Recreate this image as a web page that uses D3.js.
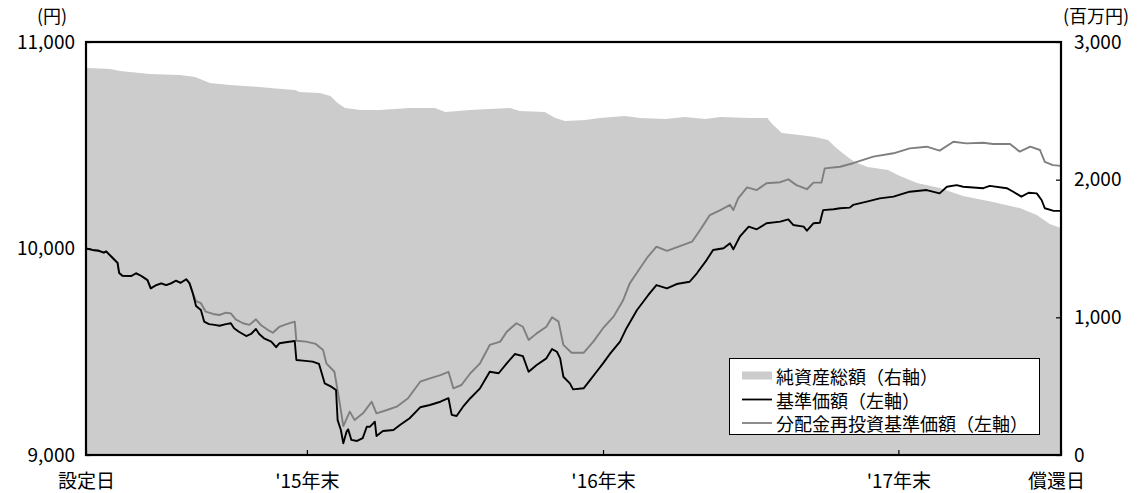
<!DOCTYPE html>
<html><head><meta charset="utf-8">
<script src="https://cdn.jsdelivr.net/npm/d3@7"></script>
<style>
body{margin:0;background:#fff}
text{font-family:"Noto Sans CJK JP","Noto Sans",sans-serif;fill:#000}
</style>
</head><body>
<svg id="c" width="1139" height="493"></svg>
<script>
// ---- data ----
const startDate = "2015-04-02";
const endDate = "2018-07-20";
const yearEndDates = ["2015-12-31","2016-12-31","2017-12-31"];
const xTickLabels = ["設定日","'15年末","'16年末","'17年末","償還日"];
const leftTicks = [9000,10000,11000];
const rightTicks = [0,1000,2000,3000];
const legendLabels = ["純資産総額（右軸）","基準価額（左軸）","分配金再投資基準価額（左軸）"];

// 純資産総額 (百万円)
const netAssets = [
["2015-04-02",2811],["2015-04-19",2808],["2015-05-02",2804],["2015-05-14",2789],["2015-06-20",2768],
["2015-07-27",2760],["2015-08-15",2746],["2015-09-02",2702],["2015-09-27",2688],["2015-11-03",2673],
["2015-11-22",2662],["2015-12-16",2651],["2015-12-22",2637],["2016-01-16",2630],["2016-01-29",2608],
["2016-02-07",2557],["2016-02-16",2521],["2016-03-06",2506],["2016-03-30",2506],["2016-05-06",2521],
["2016-06-06",2521],["2016-06-19",2492],["2016-07-20",2506],["2016-08-13",2513],["2016-09-07",2521],
["2016-09-19",2499],["2016-10-20",2492],["2016-11-02",2448],["2016-11-14",2426],["2016-12-09",2433],
["2016-12-27",2448],["2017-01-27",2462],["2017-02-15",2448],["2017-03-18",2441],["2017-04-11",2455],
["2017-05-06",2441],["2017-05-25",2455],["2017-07-01",2448],["2017-07-22",2448],["2017-07-28",2404],
["2017-08-09",2339],["2017-08-31",2324],["2017-09-19",2310],["2017-10-05",2288],["2017-10-14",2237],
["2017-10-26",2179],["2017-11-07",2128],["2017-11-23",2092],["2017-12-18",2070],["2018-01-02",2027],
["2018-01-23",1976],["2018-02-20",1939],["2018-03-21",1881],["2018-04-27",1838],["2018-05-30",1794],
["2018-06-20",1743],["2018-07-06",1678],["2018-07-20",1649]
];

// 基準価額 (円)
const basePrice = [
["2015-04-02",10000],["2015-04-10",9993],["2015-04-18",9989],["2015-04-24",9980],["2015-04-27",9986],["2015-04-29",9978],
["2015-05-05",9954],["2015-05-11",9930],["2015-05-13",9881],["2015-05-17",9868],["2015-05-28",9867],["2015-06-03",9880],
["2015-06-09",9868],["2015-06-17",9847],["2015-06-21",9807],["2015-06-28",9823],["2015-07-04",9831],["2015-07-10",9823],
["2015-07-16",9831],["2015-07-22",9844],["2015-07-28",9834],["2015-08-04",9851],["2015-08-08",9831],["2015-08-12",9783],
["2015-08-16",9722],["2015-08-22",9702],["2015-08-26",9646],["2015-09-01",9634],["2015-09-08",9630],["2015-09-14",9626],
["2015-09-22",9634],["2015-09-28",9638],["2015-10-02",9614],["2015-10-08",9597],["2015-10-17",9576],["2015-10-23",9586],
["2015-10-29",9610],["2015-11-02",9586],["2015-11-08",9565],["2015-11-17",9549],["2015-11-23",9522],["2015-11-27",9541],
["2015-12-05",9546],["2015-12-16",9552],["2015-12-18",9460],["2015-12-26",9457],["2016-01-07",9452],["2016-01-15",9441],
["2016-01-22",9347],["2016-01-30",9331],["2016-02-05",9315],["2016-02-07",9169],["2016-02-11",9121],["2016-02-14",9057],
["2016-02-18",9113],["2016-02-20",9124],["2016-02-24",9073],["2016-03-02",9068],["2016-03-09",9082],["2016-03-14",9137],
["2016-03-18",9137],["2016-03-24",9161],["2016-03-26",9092],["2016-04-03",9116],["2016-04-16",9121],["2016-04-24",9145],
["2016-05-06",9178],["2016-05-19",9231],["2016-05-31",9242],["2016-06-13",9258],["2016-06-23",9275],["2016-06-27",9194],
["2016-07-03",9189],["2016-07-11",9234],["2016-07-20",9275],["2016-08-01",9323],["2016-08-13",9403],["2016-08-24",9396],
["2016-09-03",9444],["2016-09-13",9489],["2016-09-23",9479],["2016-09-30",9403],["2016-10-10",9436],["2016-10-22",9468],
["2016-10-29",9513],["2016-11-04",9500],["2016-11-08",9468],["2016-11-12",9379],["2016-11-20",9347],["2016-11-24",9318],
["2016-12-07",9323],["2016-12-15",9363],["2016-12-23",9403],["2016-12-31",9444],["2017-01-09",9492],["2017-01-21",9549],
["2017-01-29",9614],["2017-02-11",9702],["2017-02-25",9775],["2017-03-07",9823],["2017-03-20",9807],["2017-04-01",9828],
["2017-04-17",9839],["2017-04-26",9880],["2017-05-08",9944],["2017-05-16",9993],["2017-05-29",10001],["2017-06-06",10025],
["2017-06-10",9996],["2017-06-18",10057],["2017-06-29",10106],["2017-07-09",10093],["2017-07-21",10122],["2017-08-07",10130],
["2017-08-17",10141],["2017-08-23",10114],["2017-09-05",10106],["2017-09-09",10086],["2017-09-17",10122],["2017-09-25",10125],
["2017-09-29",10186],["2017-10-12",10190],["2017-10-20",10195],["2017-11-01",10198],["2017-11-05",10211],["2017-11-22",10227],
["2017-12-08",10243],["2017-12-25",10251],["2018-01-14",10275],["2018-02-04",10283],["2018-02-20",10267],["2018-03-01",10299],
["2018-03-13",10307],["2018-03-21",10299],["2018-04-15",10292],["2018-04-23",10303],["2018-05-14",10292],["2018-05-22",10275],
["2018-06-01",10251],["2018-06-10",10270],["2018-06-20",10267],["2018-06-26",10235],["2018-06-30",10195],["2018-07-10",10183],
["2018-07-20",10182]
];

// 分配金再投資基準価額 (円)
const reinvestPrice = [
["2015-04-02",10000],["2015-04-10",9993],["2015-04-18",9989],["2015-04-24",9980],["2015-04-27",9986],["2015-04-29",9978],
["2015-05-05",9954],["2015-05-11",9930],["2015-05-13",9881],["2015-05-17",9868],["2015-05-28",9867],["2015-06-03",9880],
["2015-06-09",9868],["2015-06-17",9847],["2015-06-21",9807],["2015-06-28",9823],["2015-07-04",9831],["2015-07-10",9823],
["2015-07-16",9831],["2015-07-22",9844],["2015-07-28",9834],["2015-08-04",9851],["2015-08-08",9831],["2015-08-12",9783],
["2015-08-16",9745],["2015-08-22",9735],["2015-08-28",9694],["2015-09-06",9683],["2015-09-14",9678],["2015-09-22",9689],
["2015-09-28",9686],["2015-10-04",9657],["2015-10-13",9638],["2015-10-21",9630],["2015-10-29",9657],["2015-11-04",9630],
["2015-11-13",9605],["2015-11-19",9592],["2015-11-27",9621],["2015-12-05",9633],["2015-12-16",9646],["2015-12-18",9553],
["2015-12-30",9549],["2016-01-11",9538],["2016-01-20",9508],["2016-01-24",9444],["2016-02-03",9403],["2016-02-09",9266],
["2016-02-14",9140],["2016-02-22",9210],["2016-02-28",9169],["2016-03-10",9205],["2016-03-20",9258],["2016-03-26",9202],
["2016-04-08",9218],["2016-04-20",9234],["2016-05-04",9275],["2016-05-19",9355],["2016-05-31",9371],["2016-06-13",9387],
["2016-06-23",9403],["2016-06-29",9323],["2016-07-09",9339],["2016-07-20",9396],["2016-08-01",9444],["2016-08-13",9533],
["2016-08-26",9549],["2016-09-03",9597],["2016-09-15",9638],["2016-09-23",9621],["2016-09-30",9557],["2016-10-10",9589],
["2016-10-22",9621],["2016-10-29",9667],["2016-11-06",9646],["2016-11-12",9533],["2016-11-22",9495],["2016-12-07",9495],
["2016-12-19",9549],["2016-12-31",9614],["2017-01-13",9670],["2017-01-25",9751],["2017-02-02",9831],["2017-02-09",9872],
["2017-02-23",9953],["2017-03-07",10009],["2017-03-20",9989],["2017-04-05",10012],["2017-04-20",10033],["2017-04-30",10090],
["2017-05-12",10162],["2017-05-25",10186],["2017-06-06",10211],["2017-06-10",10186],["2017-06-16",10243],["2017-06-27",10296],
["2017-07-09",10283],["2017-07-21",10316],["2017-08-07",10321],["2017-08-17",10335],["2017-08-27",10307],["2017-09-09",10287],
["2017-09-17",10319],["2017-09-27",10319],["2017-10-01",10388],["2017-10-20",10396],["2017-11-05",10413],["2017-11-30",10445],
["2017-12-25",10461],["2018-01-14",10485],["2018-02-04",10493],["2018-02-20",10474],["2018-03-09",10517],["2018-03-25",10509],
["2018-04-15",10512],["2018-04-27",10506],["2018-05-18",10506],["2018-05-30",10469],["2018-06-12",10493],["2018-06-24",10477],
["2018-06-30",10420],["2018-07-10",10404],["2018-07-20",10400]
];

// ---- drawing ----
const parse = d3.timeParse("%Y-%m-%d");
const svg = d3.select("#c");
const L = 86, R = 1061, T = 42, B = 455;

const x = d3.scaleTime().domain([parse(startDate), parse(endDate)]).range([L, R]);
const yL = d3.scaleLinear().domain([9000, 11000]).range([B, T]);
const yR = d3.scaleLinear().domain([0, 3000]).range([B, T]);

svg.append("defs").append("clipPath").attr("id","clip")
  .append("rect").attr("x",L).attr("y",T).attr("width",R-L).attr("height",B-T);

const g = svg.append("g").attr("clip-path","url(#clip)");

const area = d3.area().x(d => x(parse(d[0]))).y0(yR(0)).y1(d => yR(d[1]));
g.append("path").datum(netAssets).attr("d", area).attr("fill", "#cccccc");

const lineL = d3.line().x(d => x(parse(d[0]))).y(d => yL(d[1]));
g.append("path").datum(reinvestPrice).attr("d", lineL)
  .attr("fill","none").attr("stroke","#7f7f7f").attr("stroke-width",1.9).attr("stroke-linejoin","round");
g.append("path").datum(basePrice).attr("d", lineL)
  .attr("fill","none").attr("stroke","#000").attr("stroke-width",1.9).attr("stroke-linejoin","round");

// axes
const axL = svg.append("g").attr("transform",`translate(${L},0)`)
  .call(d3.axisLeft(yL).tickValues(leftTicks).tickSize(-5).tickPadding(11).tickFormat(d3.format(",")));
const axR = svg.append("g").attr("transform",`translate(${R},0)`)
  .call(d3.axisRight(yR).tickValues(rightTicks).tickSize(-5).tickPadding(13).tickFormat(d3.format(",")));
const xTickDates = [startDate, ...yearEndDates, endDate].map(parse);
const axB = svg.append("g").attr("transform",`translate(0,${B})`)
  .call(d3.axisBottom(x).tickValues(xTickDates).tickSize(-5).tickPadding(20).tickFormat((d,i) => xTickLabels[i]));

[axL, axR, axB].forEach(a => {
  a.select(".domain").remove();
  a.selectAll("line").attr("stroke","#000").attr("stroke-width",1.2);
  a.selectAll("text").style("font-size","19px").attr("fill","#000");
});
axB.selectAll(".tick").filter((d,i) => i === xTickLabels.length - 1).select("text").attr("dx", -5);

// frame
svg.append("rect").attr("x",L).attr("y",T).attr("width",R-L).attr("height",B-T)
  .attr("fill","none").attr("stroke","#000").attr("stroke-width",2.2);

// unit labels
svg.append("text").attr("x",52).attr("y",15).attr("text-anchor","middle").attr("dominant-baseline","central")
  .style("font-size","18px").text("(円)");
svg.append("text").attr("x",1096).attr("y",15).attr("text-anchor","middle").attr("dominant-baseline","central")
  .style("font-size","18px").text("(百万円)");

// legend
const lg = svg.append("g");
lg.append("rect").attr("x",729.5).attr("y",358.5).attr("width",310).attr("height",76)
  .attr("fill","#fff").attr("stroke","#000").attr("stroke-width",1);
const rowY = [375.5, 399.5, 423];
lg.append("rect").attr("x",742).attr("y",rowY[0]-4).attr("width",30).attr("height",8).attr("fill","#cccccc");
lg.append("line").attr("x1",742).attr("x2",772).attr("y1",rowY[1]).attr("y2",rowY[1]).attr("stroke","#000").attr("stroke-width",1.8);
lg.append("line").attr("x1",742).attr("x2",772).attr("y1",rowY[2]).attr("y2",rowY[2]).attr("stroke","#7f7f7f").attr("stroke-width",1.8);
legendLabels.forEach((t,i) => {
  lg.append("text").attr("x",776).attr("y",rowY[i]).attr("dominant-baseline","central")
    .style("font-size","18px").text(t);
});
</script>
</body></html>
